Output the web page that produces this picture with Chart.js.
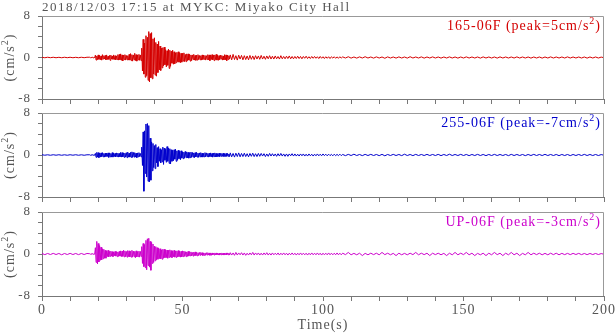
<!DOCTYPE html>
<html lang="en">
<head>
  <meta charset="UTF-8">
  <title>MYKC strong motion record</title>
  <script src="https://cdn.jsdelivr.net/npm/chart.js"></script>
  <style>
    body { margin: 0; background: #fff; }
    #wrap { position: relative; width: 616px; height: 334px; }
    #wrap canvas { position: absolute; left: 0; top: 0; }
  </style>
</head>
<body>
  <div id="wrap">
    <canvas id="ew" width="616" height="334"></canvas>
    <canvas id="ns" width="616" height="334"></canvas>
    <canvas id="ud" width="616" height="334"></canvas>
  </div>

  <script>
    // sampling grid: 1 s before the event, 0.25 s through the shaking,
    // 0.5 s for the early coda and 1 s after that
    const preStep = 1, fineStart = 17, fineStep = 0.25;
    const codaStart = 67, codaStep = 0.5, tailStart = 107, tailStep = 1;
    const timeTicks = [0, 50, 100, 150, 200];
    const ampTicks = [-8, 0, 8];

    // 165-06F component (cm/s^2)
    const pre165 = [0.04,-0.05,0.05,-0.04,0.05,-0.05,0.04,-0.05,0.05,-0.04,0.05,-0.05,0.04,-0.05,0.05,-0.04,0.05];
    const fine165 = [
      0.05,-0.04,0.03,-0.05, 0.04,-0.06,0.05,-0.03,
      0.45,-0.5,0.3,-0.4, 0.5,-0.35,0.4,-0.45, 0.3,-0.5,0.55,-0.3, 0.35,-0.3,0.4,-0.45,
      0.5,-0.4,0.25,-0.35, 0.4,-0.55,0.45,-0.3, 0.3,-0.35,0.5,-0.4, 0.35,-0.45,0.3,-0.4,
      0.55,-0.5,0.6,-0.45, 0.7,-0.55,0.5,-0.65, 0.45,-0.4,0.55,-0.5, 0.4,-0.45,0.35,-0.5,
      0.6,-0.5,0.75,-0.6, 0.55,-0.7,0.5,-0.45, 0.8,-0.6,0.55,-0.7, 0.5,-0.45,0.6,-0.55,
      0.5,-0.6,1.8,-2.6, 3.5,-3.2,2.8,-3.8, 4.2,-3.5,3.9,-4.4, 5.0,-4.7,4.6,-3.9,
      4.8,-4.1,3.6,-3.2, 3.8,-3.4,2.9,-3.6, 2.6,-2.9,3.1,-2.4, 2.2,-2.5,1.8,-2.0,
      1.9,-1.6,2.0,-1.4, 1.5,-1.8,1.3,-1.5, 1.6,-2.1,1.4,-1.7, 1.2,-1.1,1.4,-1.3,
      1.1,-1.2,0.9,-1.0, 1.0,-0.8,1.1,-0.9, 0.9,-1.0,0.8,-0.9, 0.8,-0.7,0.9,-0.8,
      0.6,-0.8,0.7,-0.6, 0.7,-0.5,0.6,-0.7, 0.5,-0.6,0.5,-0.4, 0.6,-0.5,0.4,-0.55,
      0.45,-0.5,0.55,-0.4, 0.4,-0.45,0.35,-0.5, 0.5,-0.4,0.45,-0.35, 0.4,-0.5,0.35,-0.4,
      0.55,-0.45,0.5,-0.6, 0.5,-0.4,0.55,-0.45, 0.45,-0.6,0.5,-0.4, 0.6,-0.5,0.45,-0.55,
      0.35,-0.4,0.45,-0.3, 0.4,-0.5,0.3,-0.45, 0.55,-0.45,0.5,-0.6, 0.45,-0.4,0.35,-0.3
    ];
    const coda165 = [
      0.5,-0.45,0.6,-0.4,0.35,-0.5,0.45,-0.3,0.4,-0.45,
      0.35,-0.4,0.3,-0.45,0.4,-0.35,0.3,-0.4,0.35,-0.3,
      0.3,-0.35,0.4,-0.3,0.25,-0.35,0.3,-0.25,0.35,-0.3,
      0.25,-0.3,0.3,-0.25,0.2,-0.3,0.35,-0.25,0.2,-0.25,
      0.25,-0.2,0.3,-0.25,0.2,-0.25,0.2,-0.2,0.25,-0.2,
      0.2,-0.25,0.2,-0.15,0.25,-0.2,0.15,-0.2,0.2,-0.15,
      0.2,-0.15,0.15,-0.2,0.2,-0.15,0.15,-0.2,0.15,-0.15,
      0.15,-0.2,0.15,-0.12,0.15,-0.15,0.12,-0.15,0.15,-0.12
    ];
    const tail165 = [
      0.12,-0.1,0.15,-0.12,0.1,-0.12,0.12,-0.1,0.15,-0.1,
      0.1,-0.12,0.12,-0.1,0.1,-0.15,0.12,-0.1,0.1,-0.12,
      0.12,-0.1,0.1,-0.12,0.15,-0.1,0.1,-0.1,0.12,-0.12,
      0.1,-0.1,0.12,-0.1,0.1,-0.12,0.1,-0.1,0.12,-0.1,
      0.1,-0.12,0.1,-0.1,0.12,-0.1,0.1,-0.1,0.1,-0.12,
      0.12,-0.1,0.1,-0.1,0.1,-0.12,0.12,-0.1,0.1,-0.1,
      0.1,-0.1,0.12,-0.1,0.1,-0.1,0.1,-0.12,0.1,-0.1,
      0.1,-0.12,0.1,-0.1,0.12,-0.1,0.1,-0.1,0.1,-0.1,
      0.12,-0.1,0.1,-0.1,0.1,-0.1,0.1,-0.12,0.1,-0.1,
      0.1,-0.1,0.08,-0.05
    ];

    // 255-06F component
    const pre255 = [0.05,-0.04,0.04,-0.05,0.05,-0.04,0.05,-0.05,0.04,-0.05,0.05,-0.04,0.05,-0.05,0.04,-0.05,0.04];
    const fine255 = [
      0.04,-0.05,0.03,-0.04, 0.05,-0.04,0.06,-0.05,
      0.3,-0.45,0.5,-0.4, 0.45,-0.5,0.35,-0.4, 0.4,-0.3,0.45,-0.35, 0.3,-0.4,0.35,-0.3,
      0.35,-0.3,0.4,-0.45, 0.4,-0.35,0.3,-0.4, 0.45,-0.4,0.35,-0.3, 0.3,-0.35,0.4,-0.3,
      0.35,-0.4,0.3,-0.35, 0.5,-0.4,0.45,-0.35, 0.4,-0.45,0.35,-0.4, 0.45,-0.5,0.55,-0.4,
      0.35,-0.4,0.5,-0.45, 0.6,-0.45,0.5,-0.4, 0.45,-0.4,0.35,-0.5, 0.4,-0.35,0.45,-0.3,
      0.3,-0.35,1.5,-2.0, 4.4,-6.9,4.6,-3.5, 5.9,-4.2,6.0,-5.0, 5.6,-5.1,3.2,-4.8,
      2.5,-3.0,2.2,-2.4, 1.8,-2.6,2.0,-1.5, 1.4,-2.2,1.6,-1.2, 1.2,-1.5,1.0,-1.3,
      1.5,-1.8,1.3,-1.0, 1.1,-1.4,1.6,-1.2, 1.3,-1.6,1.2,-1.7, 1.0,-1.2,0.9,-1.1,
      1.0,-0.8,1.1,-1.2, 0.8,-1.0,0.9,-0.7, 0.7,-0.9,0.8,-0.6, 0.6,-0.7,0.55,-0.6,
      0.7,-0.5,0.6,-0.55, 0.5,-0.6,0.45,-0.5, 0.55,-0.45,0.5,-0.4, 0.4,-0.5,0.45,-0.35,
      0.5,-0.4,0.35,-0.45, 0.4,-0.35,0.45,-0.4, 0.35,-0.4,0.3,-0.35, 0.45,-0.35,0.4,-0.3,
      0.3,-0.4,0.35,-0.3, 0.4,-0.35,0.3,-0.4, 0.35,-0.3,0.4,-0.35, 0.3,-0.35,0.25,-0.3,
      0.35,-0.3,0.3,-0.25, 0.3,-0.25,0.35,-0.3, 0.25,-0.3,0.3,-0.25, 0.3,-0.25,0.2,-0.3
    ];
    const coda255 = [
      0.4,-0.35,0.3,-0.4,0.35,-0.3,0.4,-0.35,0.3,-0.3,
      0.35,-0.3,0.25,-0.35,0.3,-0.25,0.35,-0.3,0.25,-0.3,
      0.3,-0.25,0.3,-0.2,0.25,-0.3,0.2,-0.25,0.3,-0.2,
      0.25,-0.2,0.2,-0.25,0.25,-0.2,0.3,-0.2,0.2,-0.25,
      0.2,-0.25,0.2,-0.15,0.25,-0.2,0.2,-0.2,0.15,-0.2,
      0.2,-0.15,0.2,-0.2,0.15,-0.2,0.2,-0.15,0.15,-0.2,
      0.15,-0.15,0.2,-0.15,0.15,-0.15,0.2,-0.12,0.15,-0.15,
      0.15,-0.12,0.12,-0.15,0.15,-0.12,0.12,-0.12,0.15,-0.12
    ];
    const tail255 = [
      0.1,-0.12,0.12,-0.1,0.15,-0.1,0.1,-0.12,0.12,-0.1,
      0.12,-0.1,0.1,-0.12,0.12,-0.15,0.1,-0.1,0.12,-0.1,
      0.1,-0.12,0.15,-0.1,0.1,-0.12,0.12,-0.1,0.1,-0.1,
      0.12,-0.1,0.1,-0.1,0.12,-0.12,0.1,-0.1,0.15,-0.1,
      0.1,-0.1,0.12,-0.1,0.1,-0.12,0.1,-0.1,0.12,-0.1,
      0.1,-0.12,0.1,-0.1,0.12,-0.1,0.1,-0.1,0.1,-0.12,
      0.12,-0.1,0.1,-0.1,0.1,-0.12,0.1,-0.1,0.12,-0.1,
      0.1,-0.1,0.12,-0.1,0.1,-0.1,0.1,-0.12,0.1,-0.1,
      0.1,-0.12,0.1,-0.1,0.1,-0.1,0.12,-0.1,0.1,-0.1,
      0.1,-0.1,0.08,-0.05
    ];

    // UP-06F component
    const preUP = [0.1,-0.12,0.1,-0.1,0.12,-0.1,0.1,-0.15,0.1,-0.1,0.12,-0.1,0.1,-0.12,0.1,-0.1,0.1];
    const fineUP = [
      0.05,-0.04,0.04,-0.05, 0.06,-0.05,0.05,-0.04,
      1.2,-1.6,2.4,-1.9, 2.0,-1.5,1.6,-1.2, 1.3,-1.1,1.0,-0.9, 0.9,-0.8,0.7,-0.8,
      0.6,-0.5,0.7,-0.55, 0.5,-0.45,0.55,-0.4, 0.45,-0.5,0.4,-0.35, 0.5,-0.4,0.45,-0.5,
      0.4,-0.45,0.5,-0.4, 0.6,-0.5,0.55,-0.45, 0.7,-0.55,0.6,-0.5, 0.5,-0.6,0.65,-0.5,
      0.6,-0.55,0.5,-0.6, 0.7,-0.6,0.55,-0.5, 0.5,-0.7,0.6,-0.55, 0.45,-0.5,0.55,-0.6,
      0.5,-0.45,1.4,-1.8, 2.0,-2.4,1.8,-2.6, 2.6,-3.0,2.9,-2.2, 3.0,-2.5,2.4,-3.1,
      2.2,-1.8,1.9,-1.6, 1.5,-1.3,1.4,-1.1, 1.2,-1.0,1.1,-0.9, 1.0,-0.9,0.8,-1.0,
      0.9,-0.8,0.9,-0.7, 0.8,-0.7,0.75,-0.8, 0.7,-0.65,0.8,-0.6, 0.65,-0.7,0.6,-0.55,
      0.7,-0.6,0.55,-0.65, 0.6,-0.55,0.65,-0.5, 0.55,-0.6,0.5,-0.55, 0.6,-0.5,0.55,-0.45,
      0.45,-0.5,0.4,-0.45, 0.5,-0.4,0.45,-0.35, 0.4,-0.35,0.3,-0.4, 0.35,-0.3,0.4,-0.3,
      0.3,-0.35,0.25,-0.3, 0.3,-0.25,0.3,-0.2, 0.25,-0.3,0.2,-0.25, 0.2,-0.25,0.25,-0.2,
      0.25,-0.2,0.2,-0.25, 0.2,-0.25,0.2,-0.15, 0.15,-0.2,0.2,-0.15, 0.2,-0.15,0.15,-0.2,
      0.15,-0.2,0.15,-0.15, 0.2,-0.15,0.15,-0.2, 0.15,-0.15,0.2,-0.15, 0.2,-0.15,0.15,-0.2
    ];
    const codaUP = [
      0.25,-0.2,0.2,-0.25,0.3,-0.2,0.2,-0.15,0.25,-0.2,
      0.2,-0.25,0.15,-0.2,0.2,-0.15,0.3,-0.2,0.2,-0.15,
      0.2,-0.2,0.15,-0.2,0.2,-0.15,0.25,-0.2,0.15,-0.2,
      0.2,-0.15,0.15,-0.15,0.2,-0.2,0.15,-0.15,0.2,-0.15,
      0.15,-0.2,0.15,-0.15,0.2,-0.15,0.15,-0.2,0.15,-0.15,
      0.2,-0.15,0.15,-0.15,0.15,-0.2,0.15,-0.15,0.2,-0.15,
      0.15,-0.15,0.2,-0.15,0.15,-0.2,0.15,-0.15,0.15,-0.15,
      0.2,-0.15,0.15,-0.15,0.15,-0.15,0.2,-0.15,0.15,-0.15
    ];
    const tailUP = [
      0.15,-0.12,0.3,-0.15,0.12,-0.15,0.15,-0.3,0.12,-0.15,
      0.15,-0.12,0.15,-0.15,0.3,-0.12,0.15,-0.15,0.12,-0.3,
      0.15,-0.15,0.12,-0.15,0.15,-0.12,0.3,-0.15,0.15,-0.12,
      0.15,-0.3,0.15,-0.12,0.15,-0.15,0.12,-0.3,0.15,-0.15,
      0.3,-0.15,0.15,-0.12,0.3,-0.15,0.15,-0.3,0.12,-0.15,
      0.15,-0.3,0.15,-0.15,0.3,-0.12,0.15,-0.3,0.15,-0.15,
      0.3,-0.15,0.15,-0.3,0.12,-0.15,0.3,-0.15,0.15,-0.12,
      0.15,-0.15,0.12,-0.15,0.15,-0.12,0.15,-0.15,0.12,-0.12,
      0.12,-0.12,0.12,-0.1,0.12,-0.12,0.1,-0.12,0.1,-0.1,
      0.1,-0.1,0.08,-0.05
    ];

    function toPoints(pre, fine, coda, tail) {
      const pts = [];
      pre.forEach((v, i) => pts.push({ x: i * preStep, y: v }));
      fine.forEach((v, i) => pts.push({ x: fineStart + i * fineStep, y: v }));
      coda.forEach((v, i) => pts.push({ x: codaStart + i * codaStep, y: v }));
      tail.forEach((v, i) => pts.push({ x: tailStart + i * tailStep, y: v }));
      return pts;
    }

    const FONT = '"Liberation Serif", "DejaVu Serif", serif';
    const W = 616, H = 334;

    // draws "text" + raised small "sup" + "after", anchored at x
    function drawSup(ctx, text, sup, after, x, y, size, align) {
      ctx.font = size + 'px ' + FONT;
      const w1 = ctx.measureText(text).width;
      const w3 = ctx.measureText(after).width;
      ctx.font = Math.round(size * 0.72) + 'px ' + FONT;
      const w2 = ctx.measureText(sup).width;
      const total = w1 + w2 + w3;
      let x0 = x;
      if (align === 'right') x0 = x - total;
      if (align === 'center') x0 = x - total / 2;
      ctx.textAlign = 'left';
      ctx.font = size + 'px ' + FONT;
      ctx.fillText(text, x0, y);
      ctx.font = Math.round(size * 0.72) + 'px ' + FONT;
      ctx.fillText(sup, x0 + w1, y - size * 0.42);
      ctx.font = size + 'px ' + FONT;
      ctx.fillText(after, x0 + w1 + w2, y);
    }

    const panelText = {
      id: 'panelText',
      beforeDraw(chart) {
        // the tick labels are set a little loose
        chart.ctx.letterSpacing = '1px';
      },
      afterDraw(chart, args, o) {
        const { ctx, chartArea: a } = chart;
        ctx.save();
        // upper and right frame
        ctx.strokeStyle = '#999';
        ctx.lineWidth = 1;
        ctx.beginPath();
        ctx.moveTo(a.left, a.top + 0.5);
        ctx.lineTo(a.right - 0.5, a.top + 0.5);
        ctx.lineTo(a.right - 0.5, a.bottom);
        ctx.stroke();

        ctx.textBaseline = 'alphabetic';
        ctx.letterSpacing = '1px';
        ctx.fillStyle = o.color;
        drawSup(ctx, o.label, '2', ')', a.right - 3, a.top + 14, 14, 'right');

        ctx.fillStyle = '#555';
        if (o.title) {
          ctx.letterSpacing = '1.5px';
          ctx.font = '13px ' + FONT;
          ctx.textAlign = 'left';
          ctx.fillText(o.title, a.left, 11);
          ctx.letterSpacing = '1px';
        }
        if (o.xTitle) {
          ctx.font = '14px ' + FONT;
          ctx.textAlign = 'center';
          ctx.fillText(o.xTitle, (a.left + a.right) / 2, 329);
        }
        ctx.translate(14, (a.top + a.bottom) / 2);
        ctx.rotate(-Math.PI / 2);
        drawSup(ctx, '(cm/s', '2', ')', 0, 0, 14, 'center');
        ctx.restore();
      }
    };

    function makePanel(id, pts, color, label, top, bottom, last) {
      const xh = last ? 30 : 6;
      return new Chart(document.getElementById(id), {
        type: 'line',
        data: { datasets: [{ data: pts, borderColor: color, borderWidth: 1, pointRadius: 0, tension: 0 }] },
        options: {
          responsive: false,
          animation: false,
          events: [],
          layout: { padding: { left: 0, right: W - 604, top: top, bottom: H - bottom - xh } },
          plugins: {
            legend: { display: false },
            tooltip: { enabled: false },
            panelText: {
              color: color,
              label: label,
              title: id === 'ew' ? '2018/12/03 17:15 at MYKC: Miyako City Hall' : '',
              xTitle: last ? 'Time(s)' : ''
            }
          },
          scales: {
            x: {
              type: 'linear', min: 0, max: 200,
              afterFit: s => { s.height = xh; },
              border: { color: '#777' },
              grid: { drawOnChartArea: false, tickLength: 5, color: '#777' },
              ticks: {
                stepSize: 10, maxRotation: 0, autoSkip: false, padding: 1,
                color: '#555', font: { family: FONT, size: 14 },
                callback: v => (last && timeTicks.includes(v)) ? v : ''
              }
            },
            y: {
              min: -8, max: 8,
              afterFit: s => { s.width = 42; },
              border: { color: '#777' },
              grid: { drawOnChartArea: false, tickLength: 4, color: '#777' },
              ticks: {
                stepSize: 2, autoSkip: false, padding: 7,
                color: '#555', font: { family: FONT, size: 13 },
                callback: v => ampTicks.includes(v) ? v : ''
              }
            }
          }
        },
        plugins: [panelText]
      });
    }

    makePanel('ew', toPoints(pre165, fine165, coda165, tail165), '#d40000', '165-06F (peak=5cm/s', 16, 99, false);
    makePanel('ns', toPoints(pre255, fine255, coda255, tail255), '#0000cc', '255-06F (peak=-7cm/s', 113, 197, false);
    makePanel('ud', toPoints(preUP, fineUP, codaUP, tailUP), '#cc00cc', 'UP-06F (peak=-3cm/s', 212, 296, true);
  </script>
</body>
</html>
